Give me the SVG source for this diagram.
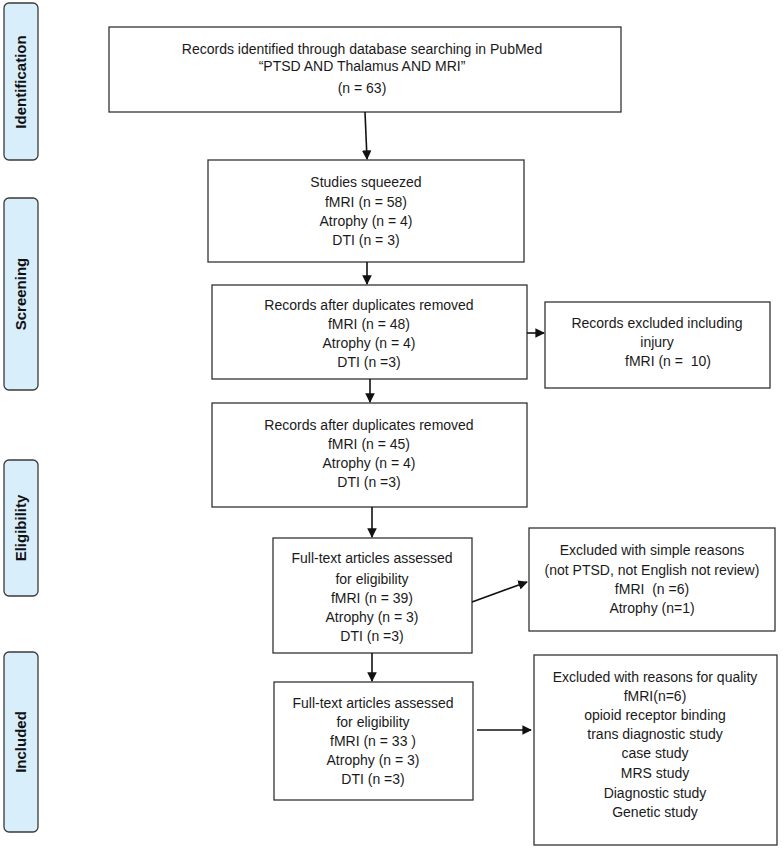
<svg xmlns="http://www.w3.org/2000/svg" width="783" height="850" viewBox="0 0 783 850">
<style>
.box{fill:#fff;stroke:#333;stroke-width:1.3}
.side{fill:#d9eefb;stroke:#3a3a3a;stroke-width:1.3}
.t{font-family:"Liberation Sans",Arial,sans-serif;font-size:14px;fill:#1a1a1a;text-anchor:middle}
.s{font-family:"Liberation Sans",Arial,sans-serif;font-size:15px;font-weight:bold;fill:#111;text-anchor:middle}
.c{stroke:#111;stroke-width:1.6;fill:none}
</style>
<defs>
<marker id="ah" viewBox="0 0 10 10" refX="9" refY="5" markerWidth="6" markerHeight="6" orient="auto" markerUnits="strokeWidth">
<path d="M0,0 L10,5 L0,10 z" fill="#111"/>
</marker>
</defs>
<rect width="783" height="850" fill="#fff"/>
<g id="phase-identification"><rect class="side" x="4" y="3" width="34" height="157" rx="5"/><text class="s" transform="translate(26,82) rotate(-90)">Identification</text></g>
<g id="phase-screening"><rect class="side" x="4" y="198" width="34" height="192" rx="5"/><text class="s" transform="translate(26,294) rotate(-90)">Screening</text></g>
<g id="phase-eligibility"><rect class="side" x="4" y="460" width="34" height="136" rx="5"/><text class="s" transform="translate(26,528) rotate(-90)">Eligibility</text></g>
<g id="phase-included"><rect class="side" x="4" y="652" width="34" height="180" rx="5"/><text class="s" transform="translate(26,742) rotate(-90)">Included</text></g>

<g id="n1"><rect class="box" x="109" y="27" width="512" height="85"/>
<text class="t" x="362" y="54">Records identified through database searching in PubMed</text>
<text class="t" x="362" y="71">“PTSD AND Thalamus AND MRI”</text>
<text class="t" x="362" y="93">(n = 63)</text></g>

<g id="n2"><rect class="box" x="208" y="160" width="316" height="102"/>
<text class="t" x="366" y="187">Studies squeezed</text>
<text class="t" x="366" y="207">fMRI (n = 58)</text>
<text class="t" x="366" y="226">Atrophy (n = 4)</text>
<text class="t" x="366" y="245">DTI (n = 3)</text></g>

<g id="n3"><rect class="box" x="212" y="285" width="315" height="94"/>
<text class="t" x="369" y="310">Records after duplicates removed</text>
<text class="t" x="369" y="329">fMRI (n = 48)</text>
<text class="t" x="369" y="348">Atrophy (n = 4)</text>
<text class="t" x="369" y="367">DTI (n =3)</text></g>

<g id="n4"><rect class="box" x="545" y="302" width="225" height="86"/>
<text class="t" x="657" y="328">Records excluded including</text>
<text class="t" x="657" y="347">injury</text>
<text class="t" x="668" y="366" xml:space="preserve">fMRI (n =  10)</text></g>

<g id="n5"><rect class="box" x="212" y="403" width="315" height="104"/>
<text class="t" x="369" y="430">Records after duplicates removed</text>
<text class="t" x="369" y="449">fMRI (n = 45)</text>
<text class="t" x="369" y="468">Atrophy (n = 4)</text>
<text class="t" x="369" y="487">DTI (n =3)</text></g>

<g id="n6"><rect class="box" x="273" y="538" width="199" height="115"/>
<text class="t" x="372" y="563">Full-text articles assessed</text>
<text class="t" x="372" y="584">for eligibility</text>
<text class="t" x="372" y="603">fMRI (n = 39)</text>
<text class="t" x="372" y="622">Atrophy (n = 3)</text>
<text class="t" x="372" y="641">DTI (n =3)</text></g>

<g id="n7"><rect class="box" x="529" y="528" width="246" height="103"/>
<text class="t" x="652" y="555">Excluded with simple reasons</text>
<text class="t" x="652" y="575">(not PTSD, not English not review)</text>
<text class="t" x="652" y="594" xml:space="preserve">fMRI  (n =6)</text>
<text class="t" x="652" y="613">Atrophy (n=1)</text></g>

<g id="n8"><rect class="box" x="274" y="682" width="199" height="118"/>
<text class="t" x="373" y="708">Full-text articles assessed</text>
<text class="t" x="373" y="727">for eligibility</text>
<text class="t" x="373" y="746">fMRI (n = 33 )</text>
<text class="t" x="373" y="765">Atrophy (n = 3)</text>
<text class="t" x="373" y="784">DTI (n =3)</text></g>

<g id="n9"><rect class="box" x="534" y="655" width="243" height="190"/>
<text class="t" x="655" y="682">Excluded with reasons for quality</text>
<text class="t" x="655" y="701">fMRI(n=6)</text>
<text class="t" x="655" y="720">opioid receptor binding</text>
<text class="t" x="655" y="739">trans diagnostic study</text>
<text class="t" x="655" y="758">case study</text>
<text class="t" x="655" y="778">MRS study</text>
<text class="t" x="655" y="798">Diagnostic study</text>
<text class="t" x="655" y="817">Genetic study</text></g>

<g id="connectors">
<line class="c" x1="365" y1="112" x2="367" y2="159" marker-end="url(#ah)"/>
<line class="c" x1="367" y1="262" x2="367" y2="284" marker-end="url(#ah)"/>
<line class="c" x1="527" y1="333" x2="544" y2="333" marker-end="url(#ah)"/>
<line class="c" x1="370" y1="379" x2="370" y2="402" marker-end="url(#ah)"/>
<line class="c" x1="372" y1="507" x2="372" y2="537" marker-end="url(#ah)"/>
<line class="c" x1="472" y1="602" x2="527" y2="582" marker-end="url(#ah)"/>
<line class="c" x1="372" y1="653" x2="372" y2="681" marker-end="url(#ah)"/>
<line class="c" x1="477" y1="730" x2="531" y2="730" marker-end="url(#ah)"/>
</g>
</svg>
